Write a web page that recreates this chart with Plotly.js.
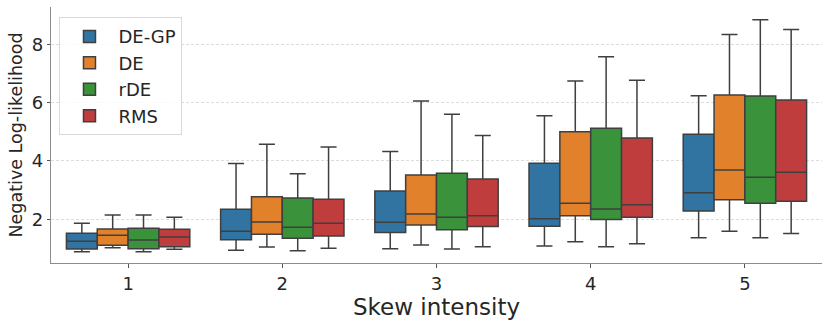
<!DOCTYPE html>
<html>
<head>
<meta charset="utf-8">
<script src="https://cdn.plot.ly/plotly-3.0.1.min.js"></script>
<style>
  html, body { margin: 0; padding: 0; background: #fff; }
  #chart { width: 830px; height: 325px; }
</style>
</head>
<body>
<div id="chart"></div>
<script>
// Skew intensity levels on the x axis
const levels = ['1', '2', '3', '4', '5'];

// Box statistics per method, one value per skew level
const methods = ['DE-GP', 'DE', 'rDE', 'RMS'];
const colors = ['#3274a1', '#e1812c', '#3a923a', '#c03d3e'];

const lowerFence = {
  'DE-GP': [0.89, 0.94, 0.99, 1.08, 1.37],
  'DE':    [1.02, 1.05, 1.12, 1.23, 1.59],
  'rDE':   [0.89, 0.92, 0.98, 1.06, 1.37],
  'RMS':   [0.97, 1.01, 1.06, 1.16, 1.51]
};
const q1 = {
  'DE-GP': [0.98, 1.30, 1.55, 1.76, 2.28],
  'DE':    [1.11, 1.49, 1.80, 2.12, 2.67],
  'rDE':   [0.99, 1.35, 1.64, 1.99, 2.55],
  'RMS':   [1.06, 1.43, 1.75, 2.07, 2.62]
};
const median = {
  'DE-GP': [1.25, 1.59, 1.90, 2.02, 2.91],
  'DE':    [1.45, 1.91, 2.18, 2.55, 3.69],
  'rDE':   [1.29, 1.73, 2.07, 2.35, 3.44],
  'RMS':   [1.39, 1.86, 2.12, 2.50, 3.61]
};
const q3 = {
  'DE-GP': [1.52, 2.34, 2.97, 3.92, 4.92],
  'DE':    [1.67, 2.77, 3.52, 5.00, 6.26],
  'rDE':   [1.69, 2.73, 3.58, 5.12, 6.23],
  'RMS':   [1.66, 2.69, 3.38, 4.79, 6.09]
};
const upperFence = {
  'DE-GP': [1.86, 3.91, 4.32, 5.55, 6.24],
  'DE':    [2.15, 4.57, 6.06, 6.74, 8.34],
  'rDE':   [2.15, 3.56, 5.60, 7.57, 8.84],
  'RMS':   [2.07, 4.48, 4.87, 6.77, 8.51]
};

const yTicks = [2, 4, 6, 8];

const FONT = 'DejaVu Sans, sans-serif';

const traces = methods.map((m, i) => ({
  type: 'box',
  name: m,
  x: levels,
  q1: q1[m],
  median: median[m],
  q3: q3[m],
  lowerfence: lowerFence[m],
  upperfence: upperFence[m],
  fillcolor: colors[i],
  line: { color: '#3f3f3f', width: 1.5 },
  whiskerwidth: 0.52,
  boxpoints: false,
  hoverinfo: 'skip'
}));

const layout = {
  width: 830, height: 325,
  paper_bgcolor: '#ffffff',
  plot_bgcolor: '#ffffff',
  font: { family: FONT, color: '#262626', size: 18 },
  margin: { t: 7, l: 51, r: 8, b: 62 },
  boxmode: 'group',
  boxgap: 0.2,
  boxgroupgap: 0,
  showlegend: true,
  legend: {
    x: 0.011, y: 0.96, xanchor: 'left', yanchor: 'top',
    bgcolor: 'rgba(255,255,255,0.8)', bordercolor: '#d9d9d9', borderwidth: 1,
    font: { size: 18, family: FONT, color: '#262626' },
    itemwidth: 48,
    tracegroupgap: 0
  },
  xaxis: {
    type: 'category',
    range: [-0.5, 4.5],
    title: { text: 'Skew intensity', font: { size: 23, family: FONT, color: '#262626' }, standoff: 4 },
    showline: true, linecolor: '#8c8c8c', linewidth: 1.2,
    ticks: 'outside', ticklen: 4, tickcolor: '#555', tickwidth: 1,
    tickfont: { size: 18 },
    showgrid: false, zeroline: false
  },
  yaxis: {
    range: [0.5, 9.28],
    tickvals: yTicks,
    title: { text: 'Negative Log-likelihood', font: { size: 17.5, family: FONT, color: '#262626' }, standoff: 4 },
    showline: true, linecolor: '#8c8c8c', linewidth: 1.2,
    ticks: 'outside', ticklen: 3, tickcolor: '#555', tickwidth: 1,
    tickfont: { size: 18 },
    showgrid: true, gridcolor: '#dcdcdc', griddash: '3px,2px', gridwidth: 1,
    zeroline: false
  }
};

Plotly.newPlot('chart', traces, layout, { displayModeBar: false, staticPlot: true });
</script>
</body>
</html>
